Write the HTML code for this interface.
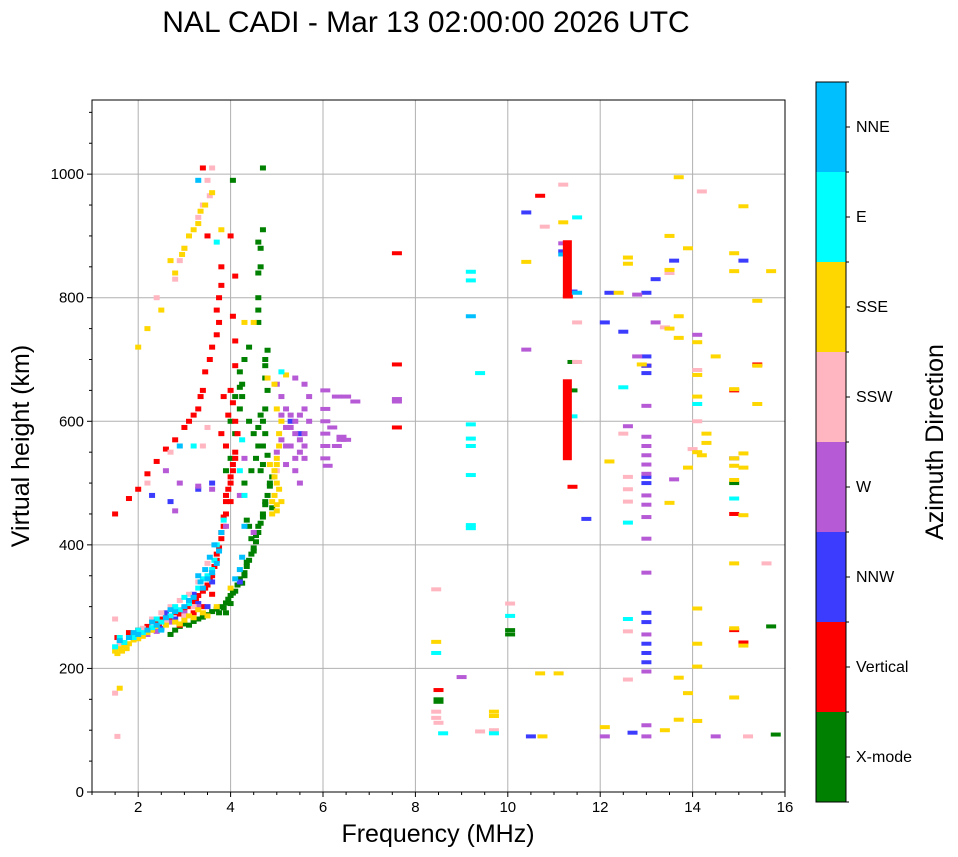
<!DOCTYPE html>
<html><head><meta charset="utf-8"><style>
body{margin:0;background:#fff;}
svg{display:block;font-family:"Liberation Sans",sans-serif;}
</style></head><body>
<svg id="chart" width="958" height="857" viewBox="0 0 958 857"></svg>
<script>
const xmode=[[2.7,255],[2.8,262],[2.9,268],[3.0,272],[3.1,270],[3.2,276],[3.3,280],[3.4,283],[3.5,287],[3.6,292],[3.7,296],[3.8,300],[3.9,306],[3.95,312],[4.0,318],[4.1,325],[4.15,335],[4.2,345],[4.3,355],[4.35,365],[4.4,375],[4.45,385],[4.5,395],[4.55,405],[4.6,420],[4.65,435],[4.7,450],[4.75,465],[4.8,480],[4.85,495],[4.9,510],[4.7,530],[4.7,560],[4.75,580],[4.7,600],[4.75,620],[4.8,650],[4.75,670],[4.75,700],[4.8,715],[4.6,760],[4.6,780],[4.6,800],[4.4,720],[4.3,700],[4.2,680],[4.25,660],[4.1,640],[4.2,620],[4.0,600],[4.1,580],[4.0,540],[3.9,520],[4.3,500],[4.4,430],[4.45,410],[4.65,850],[4.65,880],[4.7,910],[4.7,1010],[4.05,990],[4.6,560],[4.55,540],[4.4,600],[4.5,580],[4.9,460],[8.5,150],[8.5,146],[10.05,255],[10.05,262],[15.7,268],[15.8,93],[11.4,650],[11.4,696],[14.9,500],
[3.75,290],[3.85,298],[4.05,322],[4.25,338],[4.3,350],[4.5,390],[4.35,372],[4.6,430],[4.55,415],[4.7,445],[4.75,470],[4.85,500],[4.65,520],[4.8,545],[4.6,590],[4.65,610],[4.25,640],[4.2,655],[4.35,440],[4.45,520],[3.9,290],[4.0,305],[4.6,840],[4.6,890],[4.75,690]];
const vertical=[[1.55,250],[1.8,258],[2.0,262],[2.2,268],[2.4,275],[2.5,280],[2.6,285],[2.8,290],[3.0,298],[3.2,308],[3.3,318],[3.4,325],[3.5,335],[3.6,350],[3.65,365],[3.7,375],[3.75,395],[3.8,410],[3.85,430],[3.9,450],[3.9,470],[3.95,490],[4.0,510],[4.05,530],[4.1,550],[4.15,580],[4.1,600],[4.05,630],[4.0,650],[4.1,690],[4.1,730],[4.05,770],[4.1,835],[4.0,900],[3.8,850],[3.8,820],[3.75,800],[3.7,780],[3.75,760],[3.7,740],[3.6,720],[3.55,700],[3.45,680],[3.4,650],[3.35,640],[3.3,620],[3.2,610],[3.1,600],[3.0,590],[2.8,570],[2.6,555],[2.4,535],[2.2,515],[2.0,490],[1.8,475],[1.5,450],[3.4,1010],[3.5,900],[7.6,590],[7.6,692],[7.6,872],[8.5,165],[10.7,965],[11.3,802],[11.4,494],[13.0,690],[14.9,650],[14.9,450],[14.9,262],[15.1,242],[15.4,692],
[2.1,255],[2.3,262],[2.45,272],[2.7,282],[2.9,288],[3.1,300],[3.25,312],[3.45,330],[3.55,345],[3.7,385],[3.8,420],[3.85,445],[3.9,480],[4.0,500],[4.05,520],[4.1,540],[3.9,560],[3.95,610],[4.0,470],[3.8,580],[3.85,640],[3.4,300],[3.2,290],[2.9,270],[3.6,320]];
const nnw=[[2.7,470],[3.3,490],[3.6,500],[10.4,938],[11.2,875],[11.4,810],[11.7,442],[12.1,760],[12.2,808],[12.5,745],[13.0,808],[13.0,705],[13.0,690],[13.0,678],[13.0,510],[13.0,290],[13.0,275],[13.0,240],[13.0,225],[13.0,210],[13.0,500],[13.2,830],[13.6,860],[14.9,540],[15.1,860],[10.5,90],[12.7,96],[2.3,480],[3.5,300],[3.2,320],[3.6,340],
[2.6,290],[2.8,280],[3.0,285],[2.5,265],[3.3,305],[5.3,600],[5.5,580],[4.2,340],[3.1,310]];
const w=[[5.0,660],[5.1,640],[5.2,620],[5.3,610],[5.4,600],[5.2,590],[5.4,580],[5.5,570],[5.3,560],[5.5,550],[5.6,540],[5.2,530],[5.4,520],[5.5,500],[5.6,620],[5.7,600],[5.6,580],[5.1,570],[5.0,550],[5.6,660],[5.4,670],[6.05,650],[6.05,620],[6.05,600],[6.05,580],[6.05,560],[6.05,540],[6.1,528],[6.4,575],[6.5,570],[6.3,560],[6.2,590],[6.3,640],[6.5,640],[6.7,632],[7.6,636],[7.6,632],[2.9,500],[3.3,495],[3.6,490],[2.6,520],[2.8,455],[3.9,430],[4.5,420],[4.3,540],[4.2,480],[9.0,186],[10.4,716],[11.2,888],[12.8,705],[13.0,625],[13.0,575],[13.0,560],[13.0,545],[13.0,530],[13.0,515],[13.0,480],[13.0,465],[13.0,445],[13.0,410],[13.0,355],[13.0,255],[13.0,195],[13.0,108],[13.0,90],[12.1,90],[14.1,740],[14.5,90],[13.6,506],[13.2,760],[12.6,592],[12.8,805],
[2.4,260],[2.7,275],[3.0,290],[3.3,300],[2.2,255],[5.1,610],[5.3,590],[5.5,610],[5.2,560],[5.4,540],[5.6,560],[5.7,640],[6.4,570]];
const ssw=[[1.5,280],[1.5,160],[1.55,90],[1.6,240],[1.9,250],[2.1,265],[2.3,280],[2.5,290],[2.7,300],[2.9,310],[3.1,320],[3.3,340],[3.5,370],[2.4,800],[2.8,830],[2.9,860],[3.0,880],[3.3,930],[3.6,1010],[3.4,560],[3.5,590],[2.7,550],[2.2,500],[8.45,328],[8.45,130],[8.45,120],[8.5,112],[10.05,305],[10.8,915],[11.2,983],[11.5,760],[11.5,696],[12.5,580],[12.6,510],[12.6,490],[12.6,470],[12.6,260],[12.6,182],[13.4,752],[14.2,972],[14.1,600],[14.0,555],[15.6,370],[15.2,90],[14.1,683],[13.5,840],[9.7,100],[9.4,98],
[1.7,238],[2.0,250],[2.2,258],[2.6,275],[3.0,285],[3.2,300],[3.4,950],[3.5,990],[5.0,520],[3.55,965]];
const sse=[[1.5,228],[1.6,232],[1.7,236],[1.8,240],[1.9,246],[2.0,248],[2.1,252],[2.2,258],[2.3,262],[2.4,268],[2.6,270],[2.8,275],[3.0,278],[3.2,282],[3.4,290],[1.6,168],[2.0,720],[2.2,750],[2.5,780],[2.8,840],[3.0,880],[3.1,900],[3.3,920],[3.45,950],[3.6,970],[3.8,910],[4.3,760],[4.5,760],[5.0,540],[4.95,520],[5.0,500],[4.95,480],[5.0,465],[4.9,450],[5.05,560],[4.85,530],[5.1,600],[5.2,675],[4.8,670],[5.1,470],[8.45,243],[9.7,130],[9.7,123],[10.4,858],[10.7,192],[11.1,192],[10.75,90],[11.2,922],[12.1,105],[12.2,535],[12.4,808],[12.6,865],[12.6,855],[12.9,692],[13.5,900],[13.5,845],[13.5,750],[13.5,468],[13.4,100],[13.7,995],[13.7,770],[13.7,735],[13.7,185],[13.7,117],[13.9,880],[13.9,525],[13.9,160],[14.1,728],[14.1,675],[14.1,640],[14.1,550],[14.1,297],[14.1,240],[14.1,203],[14.1,115],[14.3,580],[14.3,565],[14.2,545],[14.5,705],[14.9,872],[14.9,843],[14.9,652],[14.9,540],[14.9,528],[14.9,505],[14.9,370],[14.9,265],[14.9,153],[15.1,948],[15.1,548],[15.1,525],[15.1,448],[15.1,237],[15.4,795],[15.4,690],[15.4,628],[15.7,843],
[1.55,224],[1.65,228],[1.75,232],[2.9,272],[3.1,285],[3.3,295],[3.5,285],[3.7,300],[4.0,330],[2.7,860],[3.2,910],[3.35,940],[2.95,870],[4.95,510],[5.05,490],[4.9,470],[5.0,455],[5.0,530],[5.05,580],[5.0,620],[4.95,660]];
const east=[[1.5,235],[1.7,242],[1.9,250],[2.1,258],[2.3,266],[2.5,275],[2.7,285],[2.9,295],[3.1,305],[3.3,330],[3.5,350],[3.6,360],[3.7,400],[3.85,440],[3.2,560],[3.7,890],[4.2,520],[4.3,480],[4.25,570],[8.45,225],[8.6,95],[9.2,842],[9.2,828],[9.2,595],[9.2,572],[9.2,560],[9.2,513],[9.2,432],[9.2,427],[9.4,678],[10.05,285],[11.5,930],[11.4,608],[12.5,655],[12.6,436],[12.6,280],[14.1,628],[14.9,475],[9.7,95],
[1.6,250],[2.0,262],[2.4,280],[2.8,300],[3.0,315],[3.4,345],[3.65,375],[5.1,680]];
const nne=[[1.6,245],[1.8,250],[2.0,255],[2.2,262],[2.4,270],[2.6,282],[2.8,292],[3.0,300],[3.2,315],[3.4,330],[3.5,345],[3.6,355],[3.7,370],[3.75,390],[3.8,420],[3.3,990],[3.35,340],[4.25,380],[4.2,360],[9.2,770],[11.2,870],[11.5,808],[2.9,560],[4.3,430],
[1.9,258],[2.3,275],[2.7,295],[3.1,310],[3.45,360],[3.55,380],[3.65,400],[3.3,350],[2.5,262],[4.1,345]];
const redBars=[[11.3,800,893],[11.3,537,668]];
const xTicks=[2,4,6,8,10,12,14,16];
const yTicks=[0,200,400,600,800,1000];
const cbLabels=["X-mode","Vertical","NNW","W","SSW","SSE","E","NNE"];
const cbColors=["#008000","#ff0000","#3c3cff","#b65ad6","#ffb6c1","#ffd700","#00ffff","#00bfff"];

const NS="http://www.w3.org/2000/svg";
const svg=document.getElementById('chart');
const L=92,R=785,T=100,B=792,XMIN=1,XMAX=16,YMIN=0,YMAX=1120;
const X=f=>L+(f-XMIN)/(XMAX-XMIN)*(R-L);
const Y=h=>B-(h-YMIN)/(YMAX-YMIN)*(B-T);
function mk(tag,attrs,parent){const e=document.createElementNS(NS,tag);for(const k in attrs)e.setAttribute(k,attrs[k]);(parent||svg).appendChild(e);return e;}

const grid=mk('g',{});


xTicks.forEach(t=>{if(t<XMAX)mk('line',{x1:X(t),x2:X(t),y1:T,y2:B,stroke:'#b0b0b0','stroke-width':1},grid);});
yTicks.forEach(t=>{if(t>YMIN)mk('line',{x1:L,x2:R,y1:Y(t),y2:Y(t),stroke:'#b0b0b0','stroke-width':1},grid);});

const series=[xmode,vertical,nnw,w,ssw,sse,east,nne];
const names=['xmode','vertical','nnw','w','ssw','sse','e','nne'];
series.forEach((arr,i)=>{
  const g=mk('g',{fill:cbColors[i]});
  
  
  arr.forEach(p=>{
    const wd=p[0]<6?6:10;
    const ht=p[0]<6?5:4;
    const r=mk('rect',{x:X(p[0])-wd/2,y:Y(p[1])-ht/2,width:wd,height:ht},g);
    
    
  });
});
redBars.forEach(b=>{
  const r=mk('rect',{x:X(b[0])-5,y:Y(b[2]),width:9,height:Y(b[1])-Y(b[2]),fill:'#ff0000'});
  
  
});

const fr=mk('rect',{x:L,y:T,width:R-L,height:B-T,fill:'none',stroke:'#000','stroke-width':1});



for(let t=1;t<=16;t+=0.5){const maj=xTicks.includes(t);mk('line',{x1:X(t),x2:X(t),y1:B,y2:B+(maj?5:3),stroke:'#000'});}
for(let t=0;t<=1100;t+=50){const maj=yTicks.includes(t);mk('line',{x1:L,x2:L-(maj?5:3),y1:Y(t),y2:Y(t),stroke:'#000'});}
xTicks.forEach(t=>{const e=mk('text',{x:X(t),y:B+20,'font-size':15,'text-anchor':'middle'});e.textContent=t;
  
  });
yTicks.forEach(t=>{const e=mk('text',{x:L-8,y:Y(t)+5,'font-size':15,'text-anchor':'end'});e.textContent=t;
  
  });

const CL=816,CW=30,CT=82,CB=802,seg=(CB-CT)/8;
cbColors.forEach((c,i)=>{
  const r=mk('rect',{x:CL,y:CB-(i+1)*seg,width:CW,height:seg,fill:c});
  
  
  mk('line',{x1:CL+CW,x2:CL+CW+4,y1:CB-(i+0.5)*seg,y2:CB-(i+0.5)*seg,stroke:'#000'});
  const t=mk('text',{x:CL+CW+10,y:CB-(i+0.5)*seg+5,'font-size':16});t.textContent=cbLabels[i];
  
  
});
for(let i=0;i<=8;i++)mk('line',{x1:CL+CW,x2:CL+CW+3,y1:CB-i*seg,y2:CB-i*seg,stroke:'#000'});
mk('rect',{x:CL,y:CT,width:CW,height:CB-CT,fill:'none',stroke:'#000'});
</script>
<svg style="position:absolute;left:0;top:0" width="958" height="857">
<text x="426" y="32" font-size="30" text-anchor="middle" font-family="Liberation Sans, sans-serif">NAL CADI - Mar 13 02:00:00 2026 UTC</text>
<text x="438" y="842" font-size="25" text-anchor="middle" font-family="Liberation Sans, sans-serif">Frequency (MHz)</text>
<text transform="translate(29,446) rotate(-90)" font-size="25" text-anchor="middle" font-family="Liberation Sans, sans-serif">Virtual height (km)</text>
<text transform="translate(943,442) rotate(-90)" font-size="25" text-anchor="middle" font-family="Liberation Sans, sans-serif">Azimuth Direction</text>
</svg>
</body></html>
